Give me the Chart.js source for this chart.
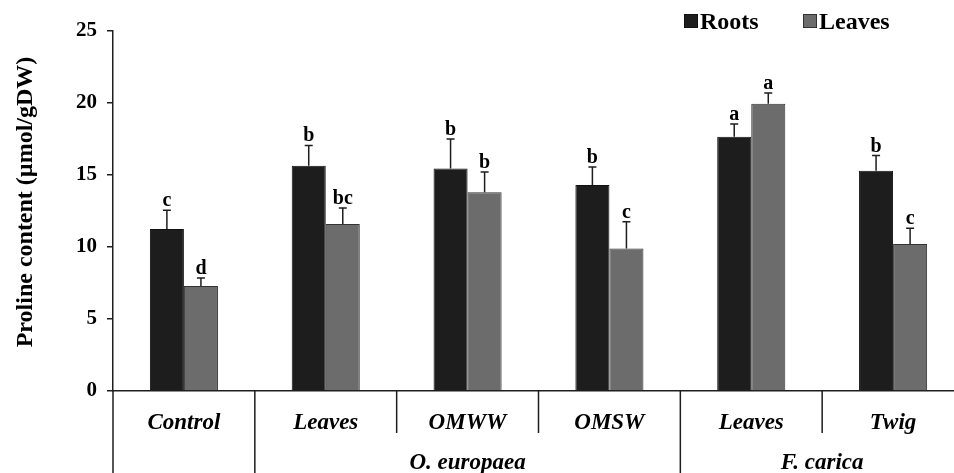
<!DOCTYPE html>
<html>
<head>
<meta charset="utf-8">
<script src="https://cdn.jsdelivr.net/npm/chart.js@4.4.1/dist/chart.umd.min.js"></script>
<style>
  html, body { margin: 0; padding: 0; background: #fff; }
  #wrap { width: 954px; height: 473px; overflow: hidden; position: relative; }
  canvas { display: block; }
</style>
</head>
<body>
<div id="wrap"><canvas id="c" width="964" height="473"></canvas></div>
<script>
// Treatments on the x axis
const categories = ['Control', 'Leaves', 'OMWW', 'OMSW', 'Leaves', 'Twig'];

// Proline content (µmol/gDW), means and standard errors
const rootsMean   = [11.25, 15.65, 15.45, 14.3, 17.65, 15.3];
const rootsErr    = [1.3, 1.4, 2.05, 1.25, 0.9, 1.05];
const leavesMean  = [7.3, 11.6, 13.8, 9.9, 19.95, 10.2];
const leavesErr   = [0.55, 1.1, 1.4, 1.85, 0.75, 1.1];

// Significance letters
const rootsLetters  = ['c', 'b', 'b', 'b', 'a', 'b'];
const leavesLetters = ['d', 'bc', 'b', 'c', 'a', 'c'];

// Source plant groups (category index ranges)
const groupLabels = ['O. europaea', 'F. carica'];
const groupStart  = [1, 4];
const groupEnd    = [3, 5];

// Divider after category i: long (full depth) or short (category row only)
const longDividers  = [0, 3];
const shortDividers = [1, 2, 4];

const yTicks = [0, 5, 10, 15, 20, 25];

const SERIF = '"Liberation Serif", "Times New Roman", serif';
const INK = '#1e1e1e';

const extras = {
  id: 'extras',
  afterDatasetsDraw(chart) {
    const ctx = chart.ctx;
    const y = chart.scales.y;
    const sets = [
      { mean: rootsMean, err: rootsErr, letters: rootsLetters },
      { mean: leavesMean, err: leavesErr, letters: leavesLetters }
    ];
    ctx.save();
    sets.forEach((s, di) => {
      const meta = chart.getDatasetMeta(di);
      meta.data.forEach((bar, i) => {
        const x = bar.x;
        const yBar = y.getPixelForValue(s.mean[i]);
        const yTop = y.getPixelForValue(s.mean[i] + s.err[i]);
        ctx.strokeStyle = INK;
        ctx.lineWidth = 1.5;
        ctx.beginPath();
        ctx.moveTo(x, yBar);
        ctx.lineTo(x, yTop);
        ctx.moveTo(x - 4, yTop);
        ctx.lineTo(x + 4, yTop);
        ctx.stroke();
        ctx.fillStyle = '#000';
        ctx.font = 'bold 20px ' + SERIF;
        ctx.textAlign = 'center';
        ctx.textBaseline = 'alphabetic';
        ctx.fillText(s.letters[i], x, yTop - 4);
      });
    });
    ctx.restore();
  },
  afterDraw(chart) {
    const ctx = chart.ctx;
    const xs = chart.scales.x;
    const area = chart.chartArea;
    const H = chart.height;
    const boundary = i => (xs.getPixelForValue(i) + xs.getPixelForValue(i + 1)) / 2;

    ctx.save();
    ctx.strokeStyle = INK;
    ctx.lineWidth = 1.5;
    ctx.beginPath();
    // y axis continues down through the label rows
    ctx.moveTo(area.left, area.bottom);
    ctx.lineTo(area.left, H);
    longDividers.forEach(i => {
      const bx = boundary(i);
      ctx.moveTo(bx, area.bottom);
      ctx.lineTo(bx, H);
    });
    shortDividers.forEach(i => {
      const bx = boundary(i);
      ctx.moveTo(bx, area.bottom);
      ctx.lineTo(bx, area.bottom + 42);
    });
    ctx.stroke();

    // group labels under the category row
    ctx.fillStyle = '#000';
    ctx.font = 'italic bold 23px ' + SERIF;
    ctx.textAlign = 'center';
    ctx.textBaseline = 'alphabetic';
    groupLabels.forEach((g, k) => {
      const left = boundary(groupStart[k] - 1);
      const right = groupEnd[k] >= categories.length - 1 ? area.right : boundary(groupEnd[k]);
      ctx.fillText(g, (left + right) / 2, 469);
    });

    // y axis title
    ctx.save();
    ctx.translate(32, 202);
    ctx.rotate(-Math.PI / 2);
    ctx.font = 'bold 24px ' + SERIF;
    ctx.textAlign = 'center';
    ctx.textBaseline = 'alphabetic';
    ctx.fillText('Proline content (\u00b5mol/gDW)', 0, 0);
    ctx.restore();

    // legend
    const items = [
      { text: 'Roots', ds: chart.data.datasets[0], x: 684 },
      { text: 'Leaves', ds: chart.data.datasets[1], x: 803 }
    ];
    ctx.font = 'bold 24px ' + SERIF;
    ctx.textAlign = 'left';
    items.forEach(it => {
      ctx.fillStyle = it.ds.backgroundColor;
      ctx.fillRect(it.x, 14, 14, 14);
      ctx.strokeStyle = it.ds.borderColor;
      ctx.lineWidth = 1;
      ctx.strokeRect(it.x + 0.5, 14.5, 13, 13);
      ctx.fillStyle = '#000';
      ctx.fillText(it.text, it.x + 16, 29);
    });
    ctx.restore();
  }
};

new Chart(document.getElementById('c'), {
  type: 'bar',
  data: {
    labels: categories,
    datasets: [
      {
        label: 'Roots',
        data: rootsMean,
        backgroundColor: '#1d1d1d',
        borderColor: '#111111',
        borderWidth: 1
      },
      {
        label: 'Leaves',
        data: leavesMean,
        backgroundColor: '#6c6c6c',
        borderColor: '#333333',
        borderWidth: 1
      }
    ]
  },
  options: {
    responsive: false,
    animation: false,
    devicePixelRatio: 1,
    layout: { padding: { top: 31, left: 0, right: 0, bottom: 0 } },
    plugins: { legend: { display: false }, tooltip: { enabled: false } },
    datasets: { bar: { categoryPercentage: 0.48, barPercentage: 1.0 } },
    scales: {
      x: {
        grid: { display: false },
        border: { display: true, color: INK, width: 1.5 },
        ticks: {
          color: '#000',
          font: { family: SERIF, size: 23, style: 'italic', weight: 'bold' },
          padding: 10,
          maxRotation: 0,
          autoSkip: false
        },
        afterFit(scale) { scale.height = 82; }
      },
      y: {
        min: 0,
        max: 25,
        afterBuildTicks(scale) { scale.ticks = yTicks.map(v => ({ value: v })); },
        grid: { drawOnChartArea: false, drawTicks: true, tickLength: 6, color: INK, lineWidth: 1.5 },
        border: { display: true, color: INK, width: 1.5 },
        ticks: {
          color: '#000',
          font: { family: SERIF, size: 21, weight: 'bold' },
          padding: 10
        },
        afterFit(scale) { scale.width = 113; }
      }
    }
  },
  plugins: [extras]
});
</script>
</body>
</html>
